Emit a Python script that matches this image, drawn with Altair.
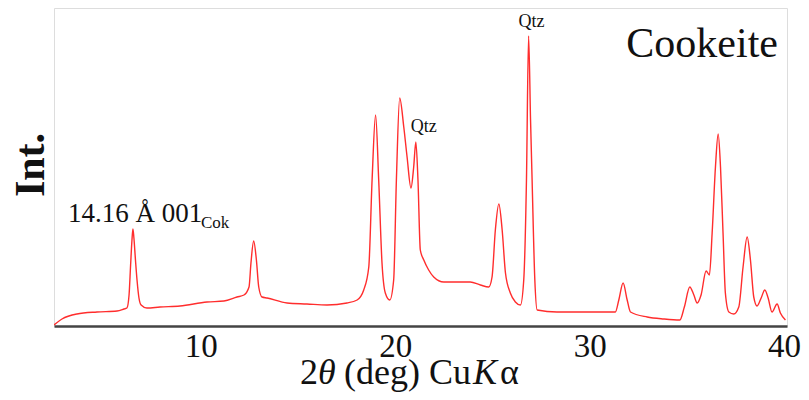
import altair as alt
import pandas as pd

two_theta = [2.45, 2.86, 3.63, 4.66, 5.69, 6.05, 6.20, 6.31, 6.39, 6.46, 6.51, 6.56, 6.64, 6.72, 6.82, 6.93,
             7.23, 7.90, 8.93, 10.32, 11.19, 11.86, 12.22, 12.48, 12.58, 12.72, 12.86, 12.98, 13.15, 13.41,
             14.44, 15.46, 16.49, 17.52, 18.04, 18.38, 18.64, 18.81, 18.99, 19.15, 19.32, 19.49, 19.72, 19.92,
             20.06, 20.23, 20.44, 20.61, 20.81, 20.95, 21.06, 21.17, 21.29, 21.47, 21.72, 21.98, 22.50, 23.18,
             23.86, 24.38, 24.81, 24.98, 25.15, 25.33, 25.50, 25.67, 25.92, 26.18, 26.44, 26.61, 26.75, 26.86,
             26.96, 27.04, 27.18, 27.30, 28.32, 30.38, 31.32, 31.50, 31.72, 31.93, 32.10, 32.96, 33.81, 34.64,
             34.87, 35.15, 35.36, 35.53, 35.73, 35.99, 36.16, 36.30, 36.47, 36.61, 36.73, 36.86, 36.98, 37.16,
             37.41, 37.67, 37.89, 38.10, 38.27, 38.44, 38.61, 38.82, 39.01, 39.18, 39.38, 39.64, 39.81, 40.07]
intensity = [1, 7, 12, 14, 15, 17, 18, 31, 61, 86, 97, 88, 66, 46, 28, 21,
             18, 19, 20, 24, 25, 29, 31, 39, 63, 85, 66, 39, 29, 28,
             23, 22, 21, 23, 26, 36, 59, 146, 211, 146, 63, 33, 26, 46,
             146, 228, 199, 169, 138, 159, 184, 146, 76, 66, 56, 49, 44, 44,
             44, 41, 39, 49, 96, 122, 96, 53, 33, 24, 21, 46, 146, 290,
             206, 146, 46, 16, 14, 14, 14, 26, 43, 26, 14, 9, 7, 6,
             19, 39, 31, 23, 31, 55, 51, 93, 159, 192, 159, 93, 33, 14,
             12, 19, 59, 89, 66, 29, 20, 28, 36, 28, 14, 22, 13, 6]

x_ticks = [10, 20, 30, 40]

qtz_x = [21.06, 26.86]
qtz_y = [184, 290]

W, H = 733, 318
SERIF = "Liberation Serif"

df = pd.DataFrame({"tt": two_theta, "I": intensity})
xs = alt.Scale(domain=[2.45, 40.15], nice=False, zero=False)
ys = alt.Scale(domain=[0, 318], nice=False, zero=False)

line = alt.Chart(df).mark_line(color="#ff2d2d", strokeWidth=1.4, interpolate="monotone", clip=True).encode(
    x=alt.X("tt:Q", scale=xs, axis=alt.Axis(values=x_ticks, title=None, ticks=False, tickSize=0, grid=False,
                                           labelFont=SERIF, labelFontSize=33, labelColor="#111",
                                           labelPadding=4, domainColor="#444", domainWidth=2.5,
                                           labelFlush=False)),
    y=alt.Y("I:Q", scale=ys, axis=None),
)

qdf = pd.DataFrame({"tt": qtz_x, "I": qtz_y, "t": ["Qtz", "Qtz"]})
qtz1 = alt.Chart(qdf.iloc[[0]]).mark_text(font=SERIF, fontSize=18, color="#111", baseline="alphabetic",
                                          dx=8, dy=-10).encode(
    x=alt.X("tt:Q", scale=xs), y=alt.Y("I:Q", scale=ys), text="t:N")
qtz2 = alt.Chart(qdf.iloc[[1]]).mark_text(font=SERIF, fontSize=18, color="#111", baseline="alphabetic",
                                          dx=3, dy=-9).encode(
    x=alt.X("tt:Q", scale=xs), y=alt.Y("I:Q", scale=ys), text="t:N")


def txt(s, x, y, size, **kw):
    return alt.Chart(pd.DataFrame({"t": [s]})).mark_text(
        font=SERIF, fontSize=size, color="#111", baseline="alphabetic", align=kw.pop("align", "left"), **kw
    ).encode(x=alt.value(x), y=alt.value(y), text="t:N")


title = txt("Cookeite", 724, 49, 42, align="right")
lab1 = txt("14.16 Å 001", 14, 214, 27)
lab1s = txt("Cok", 147, 220, 17)
yt = alt.Chart(pd.DataFrame({"t": ["Int."]})).mark_text(
    font=SERIF, fontSize=42, fontWeight="bold", color="#111", angle=270, baseline="middle", align="center"
).encode(x=alt.value(-23), y=alt.value(157), text="t:N")

xb = 376
xt = [txt("2", 246, xb, 36), txt("θ", 264, xb, 36, fontStyle="italic"), txt("(deg) Cu", 290, xb, 36),
      txt("K", 419, xb, 36, fontStyle="italic"), txt("α", 446, xb, 36)]

chart = alt.layer(line, qtz1, qtz2, title, lab1, lab1s, yt, *xt).properties(
    width=W, height=H,
    padding={"left": 46, "top": 0, "right": 14, "bottom": 66},
    autosize=alt.AutoSizeParams(type="none"),
).configure_view(stroke="#555", strokeWidth=2.5).configure(background="white")

chart.save("out.html", embed_options={"renderer": "svg", "actions": False})
